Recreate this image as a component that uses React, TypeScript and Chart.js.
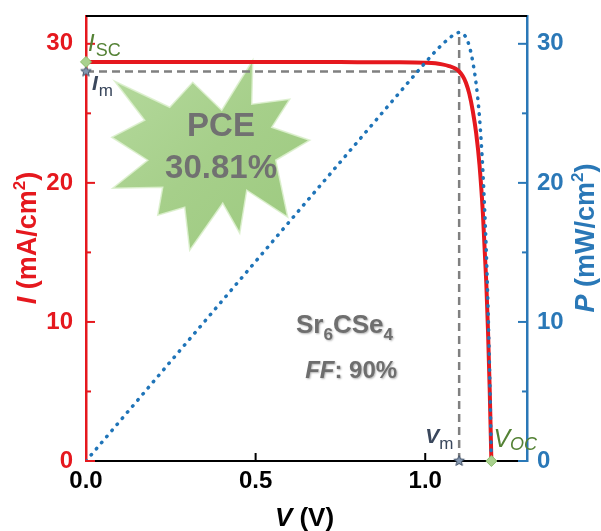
import React, { useEffect, useRef } from 'react';
import { Chart, registerables } from 'chart.js';
Chart.register(...registerables);

// ---------- data ----------
const voltage = [0, 0.1, 0.2, 0.3, 0.4, 0.5, 0.6, 0.7, 0.8, 0.9, 1.0, 1.03, 1.05, 1.07, 1.09, 1.1, 1.11, 1.12, 1.13, 1.14, 1.15, 1.16, 1.17, 1.18, 1.185, 1.19, 1.195];
const current = [28.7, 28.7, 28.7, 28.7, 28.7, 28.7, 28.7, 28.69, 28.68, 28.67, 28.64, 28.6, 28.52, 28.4, 28.2, 28.01, 27.7, 27.2, 26.4, 25.2, 23.6, 21.3, 17.8, 12.8, 9.4, 5.2, 0];
const power = [0, 2.87, 5.74, 8.61, 11.48, 14.35, 17.22, 20.08, 22.94, 25.8, 28.64, 29.46, 29.95, 30.39, 30.74, 30.81, 30.75, 30.46, 29.83, 28.73, 27.14, 24.71, 20.83, 15.1, 11.14, 6.19, 0];
const xTickValues = [0, 0.5, 1.0];
const yTickValues = [0, 10, 20, 30];
const yMinorTickValues = [5, 15, 25];
const xRange = [0, 1.3];
const yRange = [0, 32];
const Isc = 28.7;
const Voc = 1.195;
const Vm = 1.1;
const Im = 28.01;
const Pmax = 30.81;
const pceText = ['PCE', '30.81%'];
const materialMain = ['Sr', '6', 'CSe', '4'];
const ffValue = ': 90%';

// ---------- styles ----------
const RED = '#e5181e';
const BLUE_LINE = '#1f74b8';
const BLUE = '#2a78b7';
const GREEN_TXT = '#548235';
const DARK = '#3a475c';
const GREY_TXT = '#6e6e6e';
const F = '"Liberation Sans", Arial, sans-serif';

type Run = { text: string; font: string; color: string; dy?: number; dx?: number };

function drawRuns(ctx: CanvasRenderingContext2D, runs: Run[], x: number, y: number, align: 'left' | 'center' = 'left') {
  ctx.textAlign = 'left';
  ctx.textBaseline = 'alphabetic';
  let total = 0;
  runs.forEach((r) => {
    ctx.font = r.font;
    total += ctx.measureText(r.text).width + (r.dx || 0);
  });
  let cx = align === 'center' ? x - total / 2 : x;
  runs.forEach((r) => {
    ctx.font = r.font;
    ctx.fillStyle = r.color;
    cx += r.dx || 0;
    ctx.fillText(r.text, cx, y + (r.dy || 0));
    cx += ctx.measureText(r.text).width;
  });
}

function makeStar(fill: string, stroke: string, r: number) {
  const c = document.createElement('canvas');
  const s = Math.ceil(r * 2 + 3);
  c.width = s;
  c.height = s;
  const g = c.getContext('2d')!;
  g.beginPath();
  for (let i = 0; i < 10; i++) {
    const a = -Math.PI / 2 + (i * Math.PI) / 5;
    const rr = i % 2 === 0 ? r : r * 0.45;
    g.lineTo(s / 2 + rr * Math.cos(a), s / 2 + rr * Math.sin(a));
  }
  g.closePath();
  g.fillStyle = fill;
  g.fill();
  g.strokeStyle = stroke;
  g.lineWidth = 1;
  g.stroke();
  return c;
}

// decorative burst shape around the PCE label (pixel offsets from its anchor)
const burstAnchor = { x: 0.35, y: 21.7 };
const burstShape = [
  [48, -99], [47, -55], [85, -60], [67, -32], [105, -19], [71, 1], [83, 58], [42, 31], [35, 74], [18, 44],
  [-15, 91], [-20, 48], [-47, 56], [-42, 28], [-92, 29], [-57, 1], [-93, -22], [-60, -39], [-90, -78], [-35, -52],
  [-12, -77], [17, -49],
];

const annotationPlugin = {
  id: 'annots',
  beforeDatasetsDraw(chart: any) {
    const ctx: CanvasRenderingContext2D = chart.ctx;
    const xs = chart.scales.x;
    const ys = chart.scales.y;
    const ax = xs.getPixelForValue(burstAnchor.x);
    const ay = ys.getPixelForValue(burstAnchor.y);
    ctx.save();
    ctx.beginPath();
    burstShape.forEach(([dx, dy], i) => {
      if (i === 0) ctx.moveTo(ax + dx, ay + dy);
      else ctx.lineTo(ax + dx, ay + dy);
    });
    ctx.closePath();
    const grad = ctx.createLinearGradient(ax - 90, ay - 90, ax + 90, ay + 90);
    grad.addColorStop(0, '#b4d99c');
    grad.addColorStop(0.5, '#a6cf8a');
    grad.addColorStop(1, '#9dca80');
    ctx.fillStyle = grad;
    ctx.fill();
    ctx.strokeStyle = 'rgba(220,240,205,0.9)';
    ctx.lineWidth = 1.5;
    ctx.stroke();
    ctx.restore();
  },
  afterDatasetsDraw(chart: any) {
    const ctx: CanvasRenderingContext2D = chart.ctx;
    const { left, right, top, bottom } = chart.chartArea;
    const xs = chart.scales.x;
    const ys = chart.scales.y;
    ctx.save();
    // top frame line
    ctx.strokeStyle = '#000';
    ctx.lineWidth = 2;
    ctx.beginPath();
    ctx.moveTo(left, top);
    ctx.lineTo(right, top);
    ctx.stroke();
    // inward ticks
    ctx.lineWidth = 2;
    yTickValues.forEach((v) => {
      const py = ys.getPixelForValue(v);
      ctx.strokeStyle = RED;
      ctx.beginPath(); ctx.moveTo(left, py); ctx.lineTo(left + 9, py); ctx.stroke();
      ctx.strokeStyle = BLUE;
      ctx.beginPath(); ctx.moveTo(right, py); ctx.lineTo(right - 9, py); ctx.stroke();
    });
    yMinorTickValues.forEach((v) => {
      const py = ys.getPixelForValue(v);
      ctx.strokeStyle = RED;
      ctx.beginPath(); ctx.moveTo(left, py); ctx.lineTo(left + 5, py); ctx.stroke();
      ctx.strokeStyle = BLUE;
      ctx.beginPath(); ctx.moveTo(right, py); ctx.lineTo(right - 5, py); ctx.stroke();
    });
    ctx.strokeStyle = '#000';
    xTickValues.forEach((v) => {
      if (v === xRange[0]) return;
      const px = xs.getPixelForValue(v);
      ctx.beginPath(); ctx.moveTo(px, bottom); ctx.lineTo(px, bottom - 8); ctx.stroke();
    });

    // point labels
    const iscX = xs.getPixelForValue(0);
    const iscY = ys.getPixelForValue(Isc);
    drawRuns(ctx, [
      { text: 'I', font: `italic 24px ${F}`, color: GREEN_TXT },
      { text: 'SC', font: `18px ${F}`, color: GREEN_TXT, dy: 5, dx: 1 },
    ], iscX + 2, iscY - 11);
    const imY = ys.getPixelForValue(Im);
    drawRuns(ctx, [
      { text: 'I', font: `italic bold 21px ${F}`, color: DARK },
      { text: 'm', font: `17px ${F}`, color: DARK, dy: 6, dx: 1 },
    ], iscX + 6, imY + 19);
    const vmX = xs.getPixelForValue(Vm);
    drawRuns(ctx, [
      { text: 'V', font: `italic bold 21px ${F}`, color: DARK },
      { text: 'm', font: `17px ${F}`, color: DARK, dy: 6 },
    ], vmX - 34, bottom - 18);
    const vocX = xs.getPixelForValue(Voc);
    drawRuns(ctx, [
      { text: 'V', font: `italic 25px ${F}`, color: GREEN_TXT },
      { text: 'OC', font: `italic 18px ${F}`, color: GREEN_TXT, dy: 3 },
    ], vocX + 2, bottom - 14);

    // PCE text
    const pcx = xs.getPixelForValue(0.398);
    drawRuns(ctx, [{ text: pceText[0], font: `bold 33px ${F}`, color: '#717171' }], pcx, ys.getPixelForValue(23.35), 'center');
    drawRuns(ctx, [{ text: pceText[1], font: `bold 33px ${F}`, color: '#717171' }], pcx, ys.getPixelForValue(20.35), 'center');

    // material + FF
    ctx.shadowColor = 'rgba(0,0,0,0.3)';
    ctx.shadowBlur = 2;
    ctx.shadowOffsetX = 1;
    ctx.shadowOffsetY = 1;
    drawRuns(ctx, [
      { text: materialMain[0], font: `bold 26px ${F}`, color: GREY_TXT },
      { text: materialMain[1], font: `bold 17px ${F}`, color: GREY_TXT, dy: 7 },
      { text: materialMain[2], font: `bold 26px ${F}`, color: GREY_TXT },
      { text: materialMain[3], font: `bold 17px ${F}`, color: GREY_TXT, dy: 7 },
    ], xs.getPixelForValue(0.619), ys.getPixelForValue(9.2));
    drawRuns(ctx, [
      { text: 'FF', font: `italic bold 24px ${F}`, color: GREY_TXT },
      { text: ffValue, font: `bold 24px ${F}`, color: GREY_TXT },
    ], xs.getPixelForValue(0.646), ys.getPixelForValue(6.0));
    ctx.shadowColor = 'transparent';
    ctx.shadowBlur = 0;
    ctx.shadowOffsetX = 0;
    ctx.shadowOffsetY = 0;

    // axis titles
    const midY = 238;
    ctx.save();
    ctx.translate(36, midY);
    ctx.rotate(-Math.PI / 2);
    drawRuns(ctx, [
      { text: 'I', font: `italic bold 27px ${F}`, color: RED },
      { text: ' (mA/cm', font: `bold 27px ${F}`, color: RED },
      { text: '2', font: `bold 17px ${F}`, color: RED, dy: -11 },
      { text: ')', font: `bold 27px ${F}`, color: RED },
    ], 0, 0, 'center');
    ctx.restore();
    ctx.save();
    ctx.translate(594, midY);
    ctx.rotate(-Math.PI / 2);
    drawRuns(ctx, [
      { text: 'P', font: `italic bold 27px ${F}`, color: BLUE },
      { text: ' (mW/cm', font: `bold 27px ${F}`, color: BLUE },
      { text: '2', font: `bold 17px ${F}`, color: BLUE, dy: -11 },
      { text: ')', font: `bold 27px ${F}`, color: BLUE },
    ], 0, 0, 'center');
    ctx.restore();
    drawRuns(ctx, [
      { text: 'V', font: `italic bold 26px ${F}`, color: '#000' },
      { text: ' (V)', font: `bold 26px ${F}`, color: '#000' },
    ], (left + right) / 2 - 2, 526, 'center');
    ctx.restore();
  },
};

const noPadV = (w: number) => (s: any) => { s.width = w; s.paddingTop = 0; s.paddingBottom = 0; };

export default function App() {
  const ref = useRef<HTMLCanvasElement | null>(null);
  useEffect(() => {
    document.body.style.margin = '0';
    const canvas = ref.current!;
    const starImg = makeStar('#8497b0', '#44546a', 5.5);
    const pts = (ys: number[]) => voltage.map((v, i) => ({ x: v, y: ys[i] }));
    const chart = new Chart(canvas, {
      type: 'line',
      data: {
        datasets: [
          {
            label: 'Isc',
            data: [{ x: 0, y: Isc }, { x: Voc, y: 0 }],
            showLine: false,
            pointStyle: 'rectRot',
            pointRadius: 5.5,
            pointBackgroundColor: '#a9d18e',
            pointBorderColor: '#8cbf6c',
            pointBorderWidth: 1,
            clip: false,
            yAxisID: 'y',
          } as any,
          {
            label: 'Im',
            data: [{ x: 0, y: Im }, { x: Vm, y: 0 }],
            showLine: false,
            pointStyle: starImg,
            pointRadius: 6,
            clip: false,
            yAxisID: 'y',
          } as any,
          {
            label: 'P',
            data: pts(power),
            borderColor: BLUE_LINE,
            borderWidth: 3.5,
            borderDash: [0.5, 7.5],
            borderCapStyle: 'round',
            pointRadius: 0,
            cubicInterpolationMode: 'monotone',
            fill: false,
            yAxisID: 'y2',
          } as any,
          {
            label: 'I',
            data: pts(current),
            borderColor: RED,
            borderWidth: 4,
            pointRadius: 0,
            cubicInterpolationMode: 'monotone',
            fill: false,
            yAxisID: 'y',
          } as any,
          {
            label: 'dashH',
            data: [{ x: 0, y: Im }, { x: Vm, y: Im }],
            borderColor: '#808080',
            borderWidth: 2.5,
            borderDash: [8, 5],
            pointRadius: 0,
            yAxisID: 'y',
          } as any,
          {
            label: 'dashV',
            data: [{ x: Vm, y: 0 }, { x: Vm, y: Pmax }],
            borderColor: '#808080',
            borderWidth: 2.5,
            borderDash: [8, 5],
            pointRadius: 0,
            yAxisID: 'y',
          } as any,
        ],
      },
      options: {
        animation: false,
        responsive: false,
        events: [],
        layout: { padding: { top: 16, left: 0, right: 0, bottom: 0 } },
        plugins: { legend: { display: false }, tooltip: { enabled: false } },
        scales: {
          x: {
            type: 'linear',
            min: xRange[0],
            max: xRange[1],
            position: 'bottom',
            afterBuildTicks: (s: any) => { s.ticks = xTickValues.map((v) => ({ value: v })); },
            afterFit: (s: any) => { s.height = 70; s.paddingLeft = 0; s.paddingRight = 0; },
            ticks: {
              color: '#000',
              font: { family: F, size: 24, weight: 'bold' },
              padding: 6,
              maxRotation: 0,
              callback: (v: any) => Number(v).toFixed(1),
            },
            grid: { drawOnChartArea: false, drawTicks: false },
            border: { color: '#000', width: 2 },
          },
          y: {
            type: 'linear',
            min: yRange[0],
            max: yRange[1],
            position: 'left',
            afterBuildTicks: (s: any) => { s.ticks = yTickValues.map((v) => ({ value: v })); },
            afterFit: noPadV(86),
            ticks: {
              color: RED,
              font: { family: F, size: 24, weight: 'bold' },
              padding: 13,
            },
            grid: { drawOnChartArea: false, drawTicks: false },
            border: { color: RED, width: 2.5 },
          },
          y2: {
            type: 'linear',
            min: yRange[0],
            max: yRange[1],
            position: 'right',
            afterBuildTicks: (s: any) => { s.ticks = yTickValues.map((v) => ({ value: v })); },
            afterFit: noPadV(74),
            ticks: {
              color: BLUE,
              font: { family: F, size: 24, weight: 'bold' },
              padding: 10,
            },
            grid: { drawOnChartArea: false, drawTicks: false },
            border: { color: BLUE, width: 2.5 },
          },
        },
      } as any,
      plugins: [annotationPlugin],
    });
    return () => chart.destroy();
  }, []);
  return (
    <div style={{ width: 601, height: 531 }}>
      <canvas ref={ref} width={601} height={531} style={{ display: 'block' }} />
    </div>
  );
}
